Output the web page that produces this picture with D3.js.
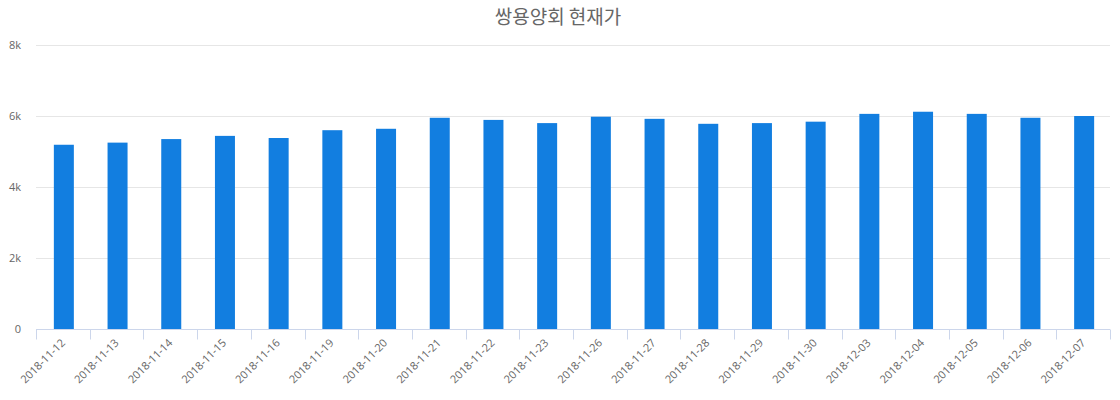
<!DOCTYPE html>
<html><head><meta charset="utf-8">
<script src="https://cdn.jsdelivr.net/npm/d3@7"></script>
<style>body{margin:0;background:#fff;}svg{display:block;font-family:"Open Sans","Noto Sans CJK KR",sans-serif;}</style>
</head><body><svg id="c" width="1120" height="400"></svg>
<script>
const title = "쌍용양회 현재가";
const categories = ["2018-11-12","2018-11-13","2018-11-14","2018-11-15","2018-11-16","2018-11-19","2018-11-20","2018-11-21","2018-11-22","2018-11-23","2018-11-26","2018-11-27","2018-11-28","2018-11-29","2018-11-30","2018-12-03","2018-12-04","2018-12-05","2018-12-06","2018-12-07"];
const values = [5190,5250,5350,5440,5380,5600,5640,5950,5890,5800,5980,5920,5780,5800,5840,6060,6120,6060,5950,6000];
const yTicks = [0,2000,4000,6000,8000];
const yTickLabels = ["0","2k","4k","6k","8k"];

const svg = d3.select("#c");
const m = {l:36, r:10, t:45, b:71};
const W = 1120, H = 400;
const x = d3.scaleBand().domain(categories).range([m.l, W - m.r]).paddingInner(0).paddingOuter(0);
const y = d3.scaleLinear().domain([0,8000]).range([H - m.b, m.t]);

svg.append("text").attr("x",558).attr("y",24).attr("text-anchor","middle")
  .attr("font-size",19).attr("fill","#666").style("font-family","'Noto Sans CJK KR',sans-serif").text(title);

// gridlines
svg.append("g").selectAll("line").data(yTicks.filter(d=>d>0)).join("line")
  .attr("x1",m.l).attr("x2",W-m.r).attr("y1",d=>Math.round(y(d))+0.5).attr("y2",d=>Math.round(y(d))+0.5)
  .attr("stroke","#e6e6e6");

// y labels
svg.append("g").selectAll("text").data(yTicks).join("text")
  .attr("x",21).attr("y",d=>y(d)+4).attr("text-anchor","end")
  .attr("font-size",11).attr("fill","#666").text((d,i)=>yTickLabels[i]);

// bars
const bw = 20;
svg.append("g").selectAll("rect").data(values).join("rect")
  .attr("x",(d,i)=>x(categories[i]) + x.bandwidth()/2 - bw/2 + 1)
  .attr("width",bw)
  .attr("y",d=>y(d)).attr("height",d=>y(0)-y(d))
  .attr("fill","#127ee0");

// x axis
const axisY = Math.round(y(0))+0.5;
svg.append("line").attr("x1",m.l).attr("x2",W-m.r).attr("y1",axisY).attr("y2",axisY).attr("stroke","#ccd6eb");
const tickPos = categories.map(c=>x(c)).concat([W-m.r]);
svg.append("g").selectAll("line").data(tickPos).join("line")
  .attr("x1",d=>Math.round(d)+0.5).attr("x2",d=>Math.round(d)+0.5).attr("y1",axisY).attr("y2",axisY+10)
  .attr("stroke","#ccd6eb");

svg.append("g").selectAll("text").data(categories).join("text")
  .attr("transform",c=>`translate(${x(c)+x.bandwidth()/2+3},${axisY+14}) rotate(-45)`)
  .attr("text-anchor","end").attr("font-size",11).attr("fill","#666").text(c=>c);
</script></body></html>
